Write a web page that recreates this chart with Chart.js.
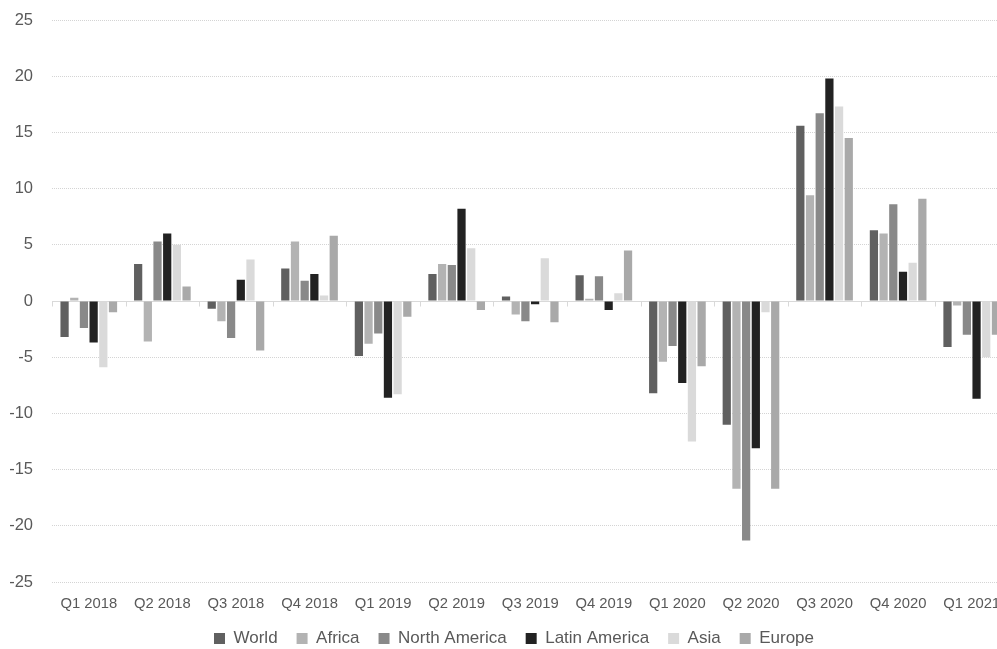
<!DOCTYPE html>
<html><head><meta charset="utf-8">
<script src="https://cdn.jsdelivr.net/npm/chart.js@4/dist/chart.umd.min.js"></script>
<style>html,body{margin:0;padding:0;overflow:hidden;background:#fff}#wrap{width:1020px;height:649px;position:relative}</style>
</head><body><div id="wrap"><canvas id="c"></canvas></div>
<script>
const categories = ['Q1 2018','Q2 2018','Q3 2018','Q4 2018','Q1 2019','Q2 2019','Q3 2019','Q4 2019','Q1 2020','Q2 2020','Q3 2020','Q4 2020','Q1 2021'];
const world        = [-3.2, 3.3, -0.7, 2.9, -4.9, 2.4,  0.4,  2.3,  -8.2, -11.0, 15.6, 6.3, -4.1];
const africa       = [ 0.3,-3.6, -1.8, 5.3, -3.8, 3.3, -1.2,  0.2,  -5.4, -16.7,  9.4, 6.0, -0.4];
const northAmerica = [-2.4, 5.3, -3.3, 1.8, -2.9, 3.2, -1.8,  2.2,  -4.0, -21.3, 16.7, 8.6, -3.0];
const latinAmerica = [-3.7, 6.0,  1.9, 2.4, -8.6, 8.2, -0.3, -0.8,  -7.3, -13.1, 19.8, 2.6, -8.7];
const asia         = [-5.9, 5.0,  3.7, 0.5, -8.3, 4.7,  3.8,  0.7, -12.5,  -1.0, 17.3, 3.4, -5.0];
const europe       = [-1.0, 1.3, -4.4, 5.8, -1.4,-0.8, -1.9,  4.5,  -5.8, -16.7, 14.5, 9.1, -3.0];
const seriesNames  = ['World','Africa','North America','Latin America','Asia','Europe'];
const yMin = -25, yMax = 25, yStep = 5;

const colors = ['#606060','#b3b3b3','#898989','#222222','#dadada','#a9a9a9'];
const seriesData = [world, africa, northAmerica, latinAmerica, asia, europe];

const zeroAxis = {
  id: 'zeroAxis',
  beforeDatasetsDraw(chart) {
    const x = chart.scales.x, y = chart.scales.y, ctx = chart.ctx;
    const y0 = Math.round(y.getPixelForValue(0)) + 0.5;
    const n = categories.length;
    ctx.save();
    ctx.strokeStyle = '#d9d9d9';
    ctx.lineWidth = 1;
    ctx.beginPath();
    ctx.moveTo(x.left, y0); ctx.lineTo(x.right, y0);
    for (let i = 0; i <= n; i++) {
      const px = Math.round(x.left + i * x.width / n) + 0.5;
      ctx.moveTo(px, y0); ctx.lineTo(px, y0 + 5);
    }
    ctx.stroke();
    ctx.restore();
  }
};

function noPad(scale) { scale.paddingTop = 0; scale.paddingBottom = 0; }

new Chart(document.getElementById('c'), {
  type: 'bar',
  data: {
    labels: categories,
    datasets: seriesNames.map((name, i) => ({
      label: name,
      data: seriesData[i],
      backgroundColor: colors[i],
      borderWidth: 0,
      categoryPercentage: 0.79,
      barPercentage: 0.85
    }))
  },
  options: {
    responsive: true,
    maintainAspectRatio: false,
    animation: false,
    layout: { padding: { left: 8, right: 0, top: 20, bottom: -8 } },
    plugins: {
      tooltip: { enabled: false },
      legend: {
        position: 'bottom',
        labels: {
          boxWidth: 11, boxHeight: 11, padding: 19,
          color: '#595959',
          font: { family: 'Liberation Sans', size: 17 }
        }
      }
    },
    scales: {
      x: {
        grid: { display: false, drawTicks: false },
        border: { display: false },
        afterFit(scale) { scale.height = 29; scale.paddingLeft = 0; scale.paddingRight = 0; },
        ticks: { color: '#595959', padding: 13, maxRotation: 0, autoSkip: false,
                 font: { family: 'Liberation Sans', size: 14.8 } }
      },
      y: {
        min: yMin, max: yMax,
        afterFit(scale) { scale.width = 44; noPad(scale); },
        grid: { drawTicks: false, color: (c) => c.tick && c.tick.value === 0 ? 'rgba(0,0,0,0)' : '#d4d4d4', lineWidth: 1 },
        border: { display: false, dash: [1, 1] },
        ticks: { stepSize: yStep, color: '#595959', padding: 19,
                 font: { family: 'Liberation Sans', size: 16.5 } }
      },
      yR: {
        type: 'linear', position: 'right', display: true,
        afterFit(scale) { scale.width = 11.5; noPad(scale); },
        grid: { display: false, drawTicks: false },
        border: { display: false },
        ticks: { display: false }
      }
    }
  },
  plugins: [zeroAxis]
});
</script>
</body></html>
